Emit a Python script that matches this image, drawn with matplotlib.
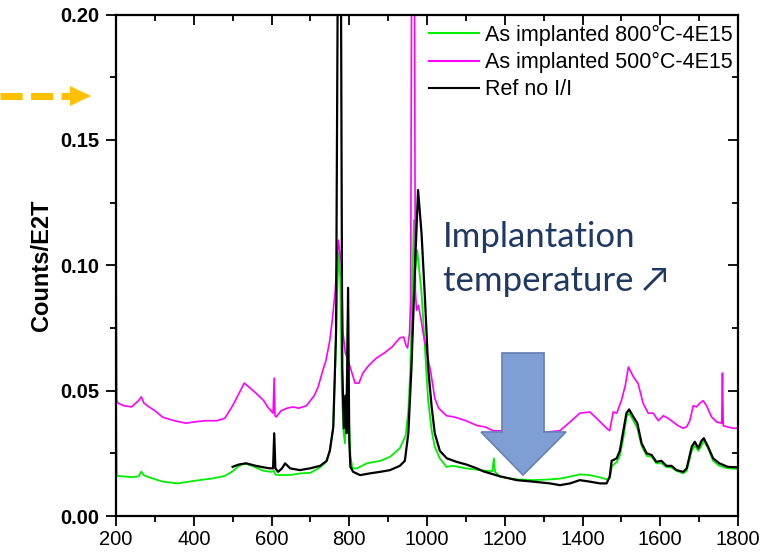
import matplotlib
matplotlib.use("Agg")
import matplotlib.pyplot as plt
from matplotlib.patches import Polygon
from matplotlib.lines import Line2D
from matplotlib.ticker import MultipleLocator

plt.rcParams['font.family'] = ['Liberation Sans', 'DejaVu Sans']

# ---- data ----
green_x = [200, 202, 220, 240, 258, 265, 272, 290, 320, 360, 400, 450, 480, 500, 515, 530, 550, 580,
           600, 606, 610, 620, 650, 675, 700, 725, 740, 750, 758, 764, 769, 773, 777, 781, 785, 789,
           793, 796, 799, 803, 808, 820, 845, 880, 905, 930, 945, 952, 957, 962, 966, 970, 975, 980,
           986, 995, 1003, 1012, 1020, 1033, 1050, 1068, 1100, 1136, 1168, 1172, 1175, 1188, 1231,
           1273, 1316, 1342, 1368, 1393, 1419, 1445, 1462, 1470, 1476, 1488, 1496, 1505, 1513, 1520,
           1531, 1541, 1552, 1565, 1578, 1590, 1603, 1616, 1629, 1642, 1659, 1668, 1681, 1689, 1698,
           1706, 1712, 1723, 1736, 1752, 1774, 1800]
green_y = [0.052, 0.016, 0.0158, 0.0155, 0.0158, 0.0177, 0.0162, 0.0152, 0.0137, 0.013, 0.014, 0.015,
           0.016, 0.0178, 0.0198, 0.021, 0.020, 0.018, 0.0176, 0.018, 0.0165, 0.0163, 0.0164, 0.017,
           0.0172, 0.0194, 0.0215, 0.026, 0.034, 0.06, 0.09, 0.105, 0.095, 0.05, 0.034, 0.029, 0.05,
           0.078, 0.04, 0.024, 0.019, 0.019, 0.021, 0.022, 0.0236, 0.027, 0.032, 0.042, 0.058, 0.088,
           0.118, 0.098, 0.106, 0.098, 0.089, 0.066, 0.046, 0.034, 0.0276, 0.023, 0.0196, 0.020,
           0.019, 0.0183, 0.0178, 0.023, 0.0176, 0.0157, 0.0146, 0.0143, 0.0146, 0.0149, 0.0157,
           0.0166, 0.0163, 0.0154, 0.0146, 0.015, 0.020, 0.0215, 0.024, 0.031, 0.0395, 0.041, 0.038,
           0.035, 0.028, 0.024, 0.0235, 0.021, 0.021, 0.0195, 0.0193, 0.018, 0.017, 0.018, 0.026,
           0.028, 0.026, 0.028, 0.030, 0.027, 0.022, 0.020, 0.019, 0.0188]

magenta_x = [200, 202, 205, 220, 240, 258, 265, 272, 285, 300, 320, 350, 380, 400, 430, 460, 480, 500,
             520, 530, 545, 560, 580, 590, 604, 607, 609, 612, 625, 640, 655, 670, 690, 710, 720, 730,
             740, 750, 757, 764, 768, 772, 776, 780, 784, 790, 797, 803, 815, 825, 835, 850, 870, 890,
             910, 930, 940, 946, 950, 955, 958, 961, 964, 967, 970, 973, 978, 985, 990, 1000, 1010,
             1020, 1030, 1050, 1070, 1100, 1130, 1150, 1170, 1188, 1250, 1308, 1342, 1368, 1393, 1419,
             1436, 1462, 1470, 1479, 1488, 1500, 1510, 1518, 1526, 1531, 1543, 1556, 1569, 1582, 1595,
             1608, 1620, 1633, 1646, 1659, 1668, 1676, 1685, 1693, 1702, 1710, 1719, 1732, 1745, 1758,
             1760, 1762, 1771, 1788, 1800]
magenta_y = [0.114, 0.046, 0.045, 0.044, 0.0435, 0.046, 0.0475, 0.045, 0.0435, 0.042, 0.0394, 0.038,
             0.037, 0.0375, 0.038, 0.038, 0.039, 0.044, 0.050, 0.053, 0.051, 0.049, 0.046, 0.0435,
             0.041, 0.055, 0.040, 0.0395, 0.042, 0.043, 0.0435, 0.043, 0.044, 0.048, 0.0515, 0.057,
             0.062, 0.070, 0.079, 0.090, 0.100, 0.110, 0.105, 0.100, 0.073, 0.065, 0.062, 0.059, 0.053,
             0.053, 0.057, 0.060, 0.063, 0.065, 0.0674, 0.071, 0.0714, 0.068, 0.067, 0.073, 0.086,
             0.25, 0.45, 0.25, 0.09, 0.082, 0.084, 0.078, 0.073, 0.065, 0.057, 0.047, 0.043, 0.040,
             0.0395, 0.038, 0.036, 0.0355, 0.034, 0.034, 0.0335, 0.0335, 0.034, 0.0375, 0.041, 0.0415,
             0.039, 0.035, 0.034, 0.0415, 0.041, 0.046, 0.052, 0.0594, 0.057, 0.0555, 0.0528, 0.0449,
             0.041, 0.041, 0.038, 0.040, 0.039, 0.0375, 0.036, 0.035, 0.0356, 0.038, 0.044, 0.0435,
             0.045, 0.046, 0.044, 0.0395, 0.0375, 0.037, 0.057, 0.036, 0.0356, 0.035, 0.035]

black_x = [500, 515, 535, 560, 580, 596, 604, 607, 610, 617, 627, 635, 648, 673, 699, 725, 742, 750,
           759, 766, 770, 775, 779, 782, 786, 790, 793, 797, 800, 803, 810, 828, 853, 879, 905, 930,
           943, 952, 960, 969, 977, 986, 995, 1003, 1012, 1020, 1033, 1051, 1076, 1102, 1128, 1145,
           1188, 1231, 1273, 1316, 1342, 1368, 1393, 1419, 1445, 1462, 1470, 1475, 1488, 1496, 1505,
           1513, 1520, 1531, 1541, 1552, 1565, 1578, 1590, 1603, 1616, 1629, 1642, 1659, 1668, 1681,
           1689, 1698, 1706, 1712, 1723, 1736, 1752, 1774, 1800]
black_y = [0.0196, 0.0205, 0.021, 0.020, 0.0194, 0.019, 0.019, 0.033, 0.019, 0.0176, 0.019, 0.021,
           0.019, 0.0183, 0.019, 0.020, 0.022, 0.026, 0.0356, 0.073, 0.2, 0.6, 0.2, 0.06, 0.035, 0.048,
           0.033, 0.091, 0.03, 0.0196, 0.0176, 0.0163, 0.017, 0.0176, 0.0183, 0.020, 0.022, 0.033,
           0.059, 0.099, 0.130, 0.1126, 0.086, 0.059, 0.0435, 0.033, 0.026, 0.023, 0.0216, 0.0205,
           0.019, 0.0178, 0.0158, 0.0143, 0.0137, 0.013, 0.0123, 0.013, 0.0143, 0.0137, 0.013, 0.013,
           0.0157, 0.022, 0.023, 0.026, 0.034, 0.041, 0.0425, 0.0395, 0.037, 0.029, 0.025, 0.0243,
           0.0216, 0.022, 0.020, 0.020, 0.0183, 0.0176, 0.019, 0.0276, 0.0296, 0.027, 0.030, 0.031,
           0.0276, 0.023, 0.021, 0.0196, 0.0194]

labels = ["As implanted 800°C-4E15", "As implanted 500°C-4E15", "Ref no I/I"]
colors = ["#00EE00", "#FF00FF", "#000000"]
x_ticks = [200, 400, 600, 800, 1000, 1200, 1400, 1600, 1800]
y_ticks = [0.00, 0.05, 0.10, 0.15, 0.20]
y_label = "Counts/E2T"
note_text = "Implantation\ntemperature \u2197"

# ---- figure ----
fig = plt.figure(figsize=(7.82, 5.56), dpi=100)
pos = [116 / 782, 40 / 556, 622 / 782, 501.5 / 556]
ax = fig.add_axes(pos)

ax.plot(green_x, green_y, color=colors[0], lw=1.3, label=labels[0])
ax.plot(magenta_x, magenta_y, color=colors[1], lw=1.2, label=labels[1])
ax.plot(black_x, black_y, color=colors[2], lw=1.6, label=labels[2])

ax.set_xlim(200, 1800)
ax.set_ylim(0, 0.20)
ax.set_xticks(x_ticks)
ax.set_yticks(y_ticks)
ax.set_yticklabels([f"{v:.2f}" for v in y_ticks], fontweight='bold')
ax.xaxis.set_minor_locator(MultipleLocator(100))
ax.yaxis.set_minor_locator(MultipleLocator(0.025))
for sp in ax.spines.values():
    sp.set_linewidth(1.6)
ax.tick_params(which='major', direction='out', length=7, width=1.3, labelsize=14.5,
               top=False, right=False)
ax.tick_params(which='minor', direction='out', length=4, width=1.3, top=False, right=False)
ax.tick_params(axis='y', pad=5)
ax.tick_params(axis='x', pad=3)
ax.set_ylabel(y_label, fontsize=17, fontweight='bold', labelpad=5)

# overlay axes for the inward ticks on top and right
ov = fig.add_axes(pos, facecolor='none')
ov.set_xlim(200, 1800)
ov.set_ylim(0, 0.20)
ov.set_xticks(x_ticks)
ov.set_yticks(y_ticks)
ov.xaxis.set_minor_locator(MultipleLocator(100))
ov.yaxis.set_minor_locator(MultipleLocator(0.025))
for sp in ov.spines.values():
    sp.set_visible(False)
ov.tick_params(which='both', direction='in', bottom=False, left=False, top=True, right=True,
               labelbottom=False, labelleft=False, width=1.3)
ov.tick_params(which='major', length=7)
ov.tick_params(which='minor', length=4)

leg = ax.legend(loc='upper right', bbox_to_anchor=(1 - 1 / 622, 1 - 6 / 501.5), frameon=False,
                fontsize=15.5, handlelength=2.33, handletextpad=0.28, labelspacing=0.28,
                borderaxespad=0.0, borderpad=0.2)
for h in leg.get_lines():
    h.set_linewidth(1.5)

# annotation text
fig.text(443 / 782, 1 - 259 / 556, note_text, color="#1F3864", fontsize=25,
         family=['Lato', 'DejaVu Sans'], ha='left', va='center', linespacing=1.45)

# big blue down arrow (axes fraction coordinates)
def af(px, py):
    return ((px - 116) / 622, (516 - py) / 501.5)
arrow_pts = [af(502, 353), af(544, 353), af(544, 432), af(566, 432), af(523, 475),
             af(481, 432), af(502, 432)]
ax.add_patch(Polygon(arrow_pts, closed=True, transform=ax.transAxes, facecolor="#7F9FD4",
                     edgecolor="#6A84B8", lw=1.3, zorder=5))

# orange dashed arrow at the left (figure coordinates)
yc = 1 - 96 / 556
fig.add_artist(Line2D([0, 72 / 782], [yc, yc], color="#FFC000", lw=5, linestyle=(0, (3.2, 1.2)),
                      transform=fig.transFigure))
fig.add_artist(Polygon([(70 / 782, 1 - 86 / 556), (91 / 782, yc), (70 / 782, 1 - 106 / 556)],
                       closed=True, transform=fig.transFigure, facecolor="#FFC000",
                       edgecolor="none"))

fig.savefig("out.png", dpi=100)
